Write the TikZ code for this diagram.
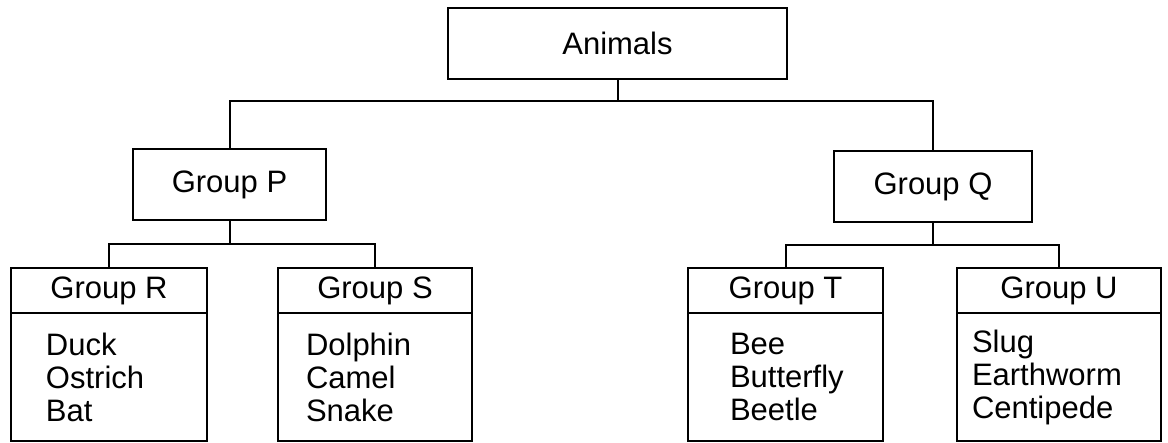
\documentclass[tikz,border=0pt]{standalone}
\usepackage{fontspec}
\setmainfont{Liberation Sans}
\usetikzlibrary{positioning}

\begin{document}
\begin{tikzpicture}[x=0.5pt,y=-0.5pt,line width=1pt,
  box/.style={draw,outer sep=0pt,inner sep=0pt,font=\fontsize{15.5}{16.5}\selectfont},
  head/.style={box,minimum height=22.5pt},
  body/.style={box,minimum height=64pt},
  items/.style={align=left,inner sep=0pt,font=\fontsize{15.5}{16.5}\selectfont}]
\useasboundingbox (0,0) rectangle (1168,443);

\node[box,minimum width=169.5pt,minimum height=35.5pt] (animals) at (617.5,43.5) {Animals};
\node[box,minimum width=96.5pt,minimum height=35.5pt] (p) at (229.5,184.5) {Group P};
\node[box,minimum width=99pt,minimum height=35.5pt] (q) at (933,186.5) {Group Q};

\node[head,minimum width=98pt] (r) at (109,290.5) {Group R};
\node[body,minimum width=98pt,below=0pt of r] (rbox) {};
\node[items,right=17pt of rbox.west] (rlist) {Duck\\Ostrich\\Bat};

\node[head,minimum width=97pt] (s) at (375,290.5) {Group S};
\node[body,minimum width=97pt,below=0pt of s] (sbox) {};
\node[items,right=13.5pt of sbox.west] (slist) {Dolphin\\Camel\\Snake};

\node[head,minimum width=97.5pt] (t) at (785.5,290.5) {Group T};
\node[body,minimum width=97.5pt,below=0pt of t] (tbox) {};
\node[items,right=20.5pt of tbox.west] (tlist) {Bee\\Butterfly\\Beetle};

\node[head,minimum width=102pt] (u) at (1059,290.5) {Group U};
\node[body,minimum width=102pt,below=0pt of u] (ubox) {};
\node[items,right=7pt of ubox.west] (ulist) {Slug\\Earthworm\\Centipede};

\draw (animals.south) -- ++(0,22) coordinate (pq);
\draw (p.north) |- (pq) -| (q.north);
\draw (p.south) -- ++(0,24) coordinate (rs);
\draw (r.north) |- (rs) -| (s.north);
\draw (q.south) -- ++(0,23) coordinate (tu);
\draw (t.north) |- (tu) -| (u.north);
\end{tikzpicture}
\end{document}
